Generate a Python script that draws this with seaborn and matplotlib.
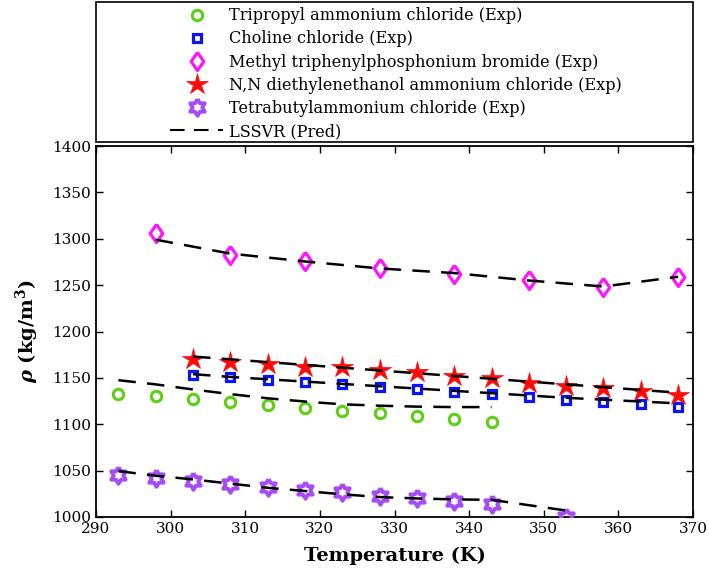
import numpy as np
import pandas as pd
import matplotlib
matplotlib.use("Agg")
import matplotlib.pyplot as plt
from matplotlib.patches import Rectangle
from matplotlib.lines import Line2D
from matplotlib.markers import MarkerStyle
import seaborn as sns

# Temperatures (K)
T_tripropyl = [293, 298, 303, 308, 313, 318, 323, 328, 333, 338, 343]
T_choline = [303, 308, 313, 318, 323, 328, 333, 338, 343, 348, 353, 358, 363, 368]
T_methyl = [298, 308, 318, 328, 338, 348, 358, 368]
T_diethyl = [303, 308, 313, 318, 323, 328, 333, 338, 343, 348, 353, 358, 363, 368]
T_tetrabutyl = [293, 298, 303, 308, 313, 318, 323, 328, 333, 338, 343, 353]

# Experimental densities (kg/m3)
exp_tripropyl = [1133, 1130.5, 1127, 1124, 1121, 1117.5, 1114.5, 1112, 1108.5, 1105.5, 1102]
exp_choline = [1153, 1150.5, 1148, 1145.5, 1143, 1140.5, 1138, 1135, 1132.5, 1129.5, 1126.5, 1124, 1121.5, 1119]
exp_methyl = [1306, 1283, 1276, 1269, 1261.5, 1255.5, 1248.5, 1258.5]
exp_diethyl = [1170.5, 1167.5, 1165, 1162, 1161.5, 1159, 1156, 1152.5, 1150, 1144, 1141, 1139, 1135.5, 1132]
exp_tetrabutyl = [1045.5, 1042, 1039, 1036, 1032, 1029.5, 1027, 1023, 1020, 1017, 1013.5, 1000]

# LSSVR predictions (kg/m3)
pred_tripropyl = [1147.5, 1143, 1137.5, 1132.5, 1128, 1124.5, 1121.5, 1120, 1119, 1118.5, 1118.5]
pred_choline = [1154, 1151, 1148.5, 1146, 1143.5, 1141, 1138.5, 1136, 1133.5, 1131, 1128.5, 1126.5, 1124.5, 1122.5]
pred_methyl = [1299, 1284, 1275.5, 1268, 1263, 1255, 1248.5, 1259]
pred_diethyl = [1173, 1170, 1167, 1164, 1161, 1158, 1155, 1152, 1149, 1146, 1143, 1140, 1137, 1134]
pred_tetrabutyl = [1049.5, 1044.5, 1040.5, 1036, 1031.5, 1028, 1024.5, 1021.5, 1020, 1019, 1018.5, 1007]

labels = ["Tripropyl ammonium chloride (Exp)",
          "Choline chloride (Exp)",
          "Methyl triphenylphosphonium bromide (Exp)",
          "N,N diethylenethanol ammonium chloride (Exp)",
          "Tetrabutylammonium chloride (Exp)"]

plt.rcParams["font.family"] = ["DejaVu Serif"]
plt.rcParams["mathtext.fontset"] = "dejavuserif"

fig = plt.figure(figsize=(7.09, 5.81), dpi=100)
W, H = 709, 581
ax = fig.add_axes([96 / W, 1 - 517 / H, (693 - 96) / W, (517 - 146) / H])

# closed hexagram and narrow diamond markers
ang = np.deg2rad(np.arange(13) * 30 + 90)
rad = np.where(np.arange(13) % 2 == 0, 1.0, 0.58)
hexa = MarkerStyle(np.column_stack([rad * np.cos(ang), rad * np.sin(ang)]), joinstyle="miter")
diamond = [(0, 1), (0.7, 0), (0, -1), (-0.7, 0), (0, 1)]

styles = [
    dict(marker="o", ms=7.5, mew=2.2, color="#5ccf14", mfc="none"),
    dict(marker="s", ms=6.2, mew=2.3, color="#0a14f5", mfc="none"),
    dict(marker=diamond, ms=13, mew=2.3, color="#ff14ff", mfc="none"),
    dict(marker="*", ms=16, mew=0.5, color="#ff0a0a", mfc="#ff0a0a"),
    dict(marker=hexa, ms=12, mew=2.8, color="#a54cf7", mfc="none"),
]

series = [
    (T_tripropyl, exp_tripropyl, pred_tripropyl),
    (T_choline, exp_choline, pred_choline),
    (T_methyl, exp_methyl, pred_methyl),
    (T_diethyl, exp_diethyl, pred_diethyl),
    (T_tetrabutyl, exp_tetrabutyl, pred_tetrabutyl),
]

handles = []
for (T, e, p), lab, st in zip(series, labels, styles):
    df = pd.DataFrame({"T": T, "exp": e, "pred": p})
    sns.lineplot(data=df, x="T", y="exp", ax=ax, linestyle="none",
                 marker=st["marker"], markersize=st["ms"], markeredgewidth=st["mew"],
                 markeredgecolor=st["color"], markerfacecolor=st["mfc"],
                 color=st["color"], errorbar=None, zorder=3)
    sns.lineplot(data=df, x="T", y="pred", ax=ax, color="black", linewidth=1.8,
                 dashes=False, errorbar=None, zorder=4)
    ax.lines[-1].set_dashes([7, 4.5])
    handles.append(Line2D([], [], linestyle="none", marker=st["marker"], markersize=st["ms"],
                          markeredgewidth=st["mew"], markeredgecolor=st["color"],
                          markerfacecolor=st["mfc"]))
handles.append(Line2D([], [], color="black", linewidth=1.5, dashes=[7, 4.5]))

ax.set_xlim(290, 370)
ax.set_ylim(1000, 1400)
ax.set_xticks(np.arange(290, 371, 10))
ax.set_yticks(np.arange(1000, 1401, 50))
ax.tick_params(direction="in", top=True, right=True, length=5, width=1, labelsize=11)
for s in ax.spines.values():
    s.set_linewidth(1.3)
ax.set_xlabel("Temperature (K)", fontsize=14, fontweight="bold", labelpad=8)
ax.set_ylabel(r"$\boldsymbol{\rho}$ (kg/m$^{\mathbf{3}}$)", fontsize=14, fontweight="bold", labelpad=8)

# legend box
fig.patches.append(Rectangle((96 / W, 1 - 142 / H), (693 - 96) / W, (142 - 2) / H,
                             transform=fig.transFigure, fill=False, edgecolor="black",
                             linewidth=1.2))
fig.legend(handles, labels + ["LSSVR (Pred)"], loc="upper left",
           bbox_to_anchor=(159 / W, 1 + 4 / H), frameon=False,
           prop={"family": "DejaVu Serif", "size": 11.6},
           handlelength=3.3, handletextpad=0.35, labelspacing=0.38, borderpad=0.2)

fig.savefig("out.png", dpi=100)
